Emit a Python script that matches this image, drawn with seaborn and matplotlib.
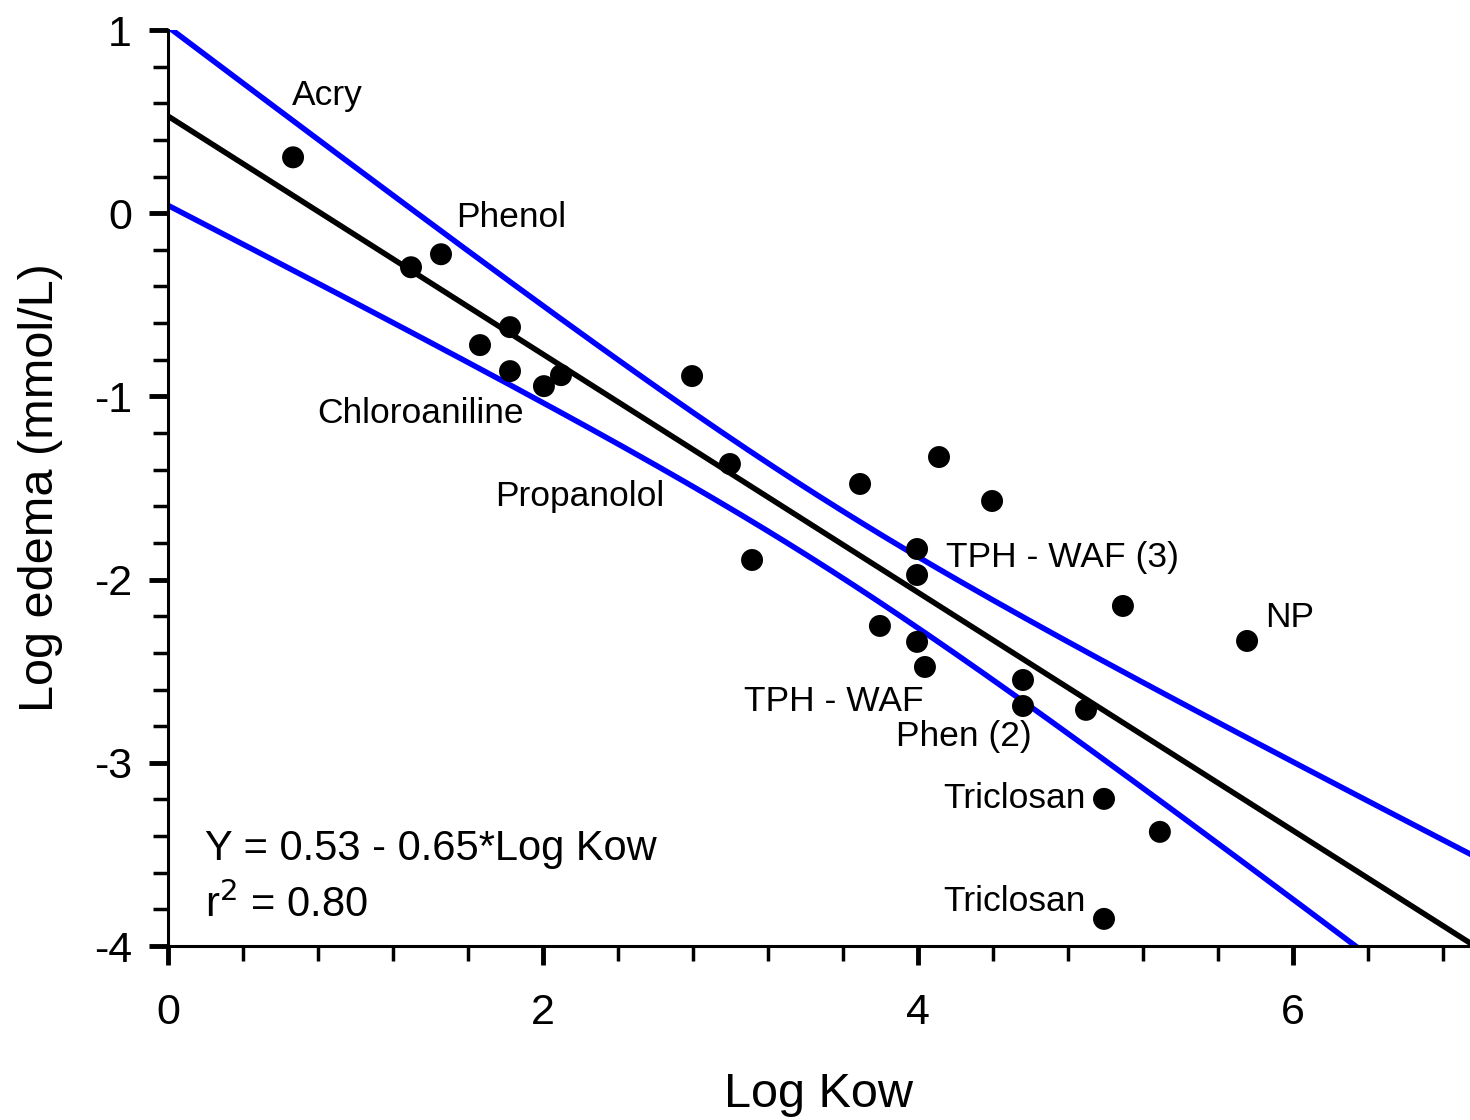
import numpy as np
import pandas as pd
import matplotlib
matplotlib.use("Agg")
import matplotlib.pyplot as plt
from matplotlib.ticker import MultipleLocator
import seaborn as sns

# values
log_kow = [0.667, 1.296, 1.456, 1.824, 1.664, 1.824, 2.005, 2.096, 2.795,
           2.997, 3.115, 3.691, 4.112, 4.395, 3.995, 3.995, 3.797, 3.995,
           4.037, 4.56, 4.56, 4.896, 5.093, 5.755, 4.992, 5.29, 4.992]
log_edema = [0.305, -0.295, -0.224, -0.622, -0.72, -0.862, -0.944, -0.884, -0.889,
             -1.369, -1.893, -1.478, -1.331, -1.571, -1.833, -1.975, -2.253, -2.34,
             -2.477, -2.548, -2.69, -2.711, -2.144, -2.335, -3.197, -3.377, -3.852]

intercept = 0.53
slope = -0.65
r2_text = "0.80"

labels = ["Acry", "Phenol", "Chloroaniline", "Propanolol", "TPH - WAF (3)", "NP",
          "TPH - WAF", "Phen (2)", "Triclosan", "Triclosan"]
label_pos = [(0.661, 0.644), (1.536, -0.022), (0.795, -1.091), (1.744, -1.549),
             (4.149, -1.882), (5.851, -2.209), (3.072, -2.668), (3.883, -2.859),
             (4.133, -3.197), (4.133, -3.759)]

df = pd.DataFrame({"x": log_kow, "y": log_edema})

# fitted line and 95% confidence band of the mean
n = len(df)
resid = df["y"] - (intercept + slope * df["x"])
s = np.sqrt((resid ** 2).sum() / (n - 2))
xbar = df["x"].mean()
sxx = ((df["x"] - xbar) ** 2).sum()
t = 2.06
xs = np.linspace(0, 7, 300)
fit = intercept + slope * xs
half = t * s * np.sqrt(1 / n + (xs - xbar) ** 2 / sxx)
lines = pd.DataFrame({"x": xs, "fit": fit, "upper": fit + half, "lower": fit - half})

sns.set_style("ticks")
plt.rcParams["font.family"] = ["Liberation Sans", "DejaVu Sans"]
plt.rcParams["axes.unicode_minus"] = False
for key in ["text.color", "axes.labelcolor", "xtick.color", "ytick.color"]:
    plt.rcParams[key] = "black"

fig = plt.figure(figsize=(14.7, 11.2), dpi=100)
ax = fig.add_axes([168 / 1470, 1 - 946 / 1120, 1302 / 1470, 916 / 1120])

sns.lineplot(data=lines, x="x", y="upper", color="#0000ff", lw=4, ax=ax)
sns.lineplot(data=lines, x="x", y="lower", color="#0000ff", lw=4, ax=ax)
sns.lineplot(data=lines, x="x", y="fit", color="black", lw=4, ax=ax)
sns.scatterplot(data=df, x="x", y="y", color="black", s=250, edgecolor="none",
                ax=ax, zorder=5)

for lab, (lx, ly) in zip(labels, label_pos):
    ax.text(lx, ly, lab, fontsize=25.5, ha="left", va="center")

ax.text(0.197, -3.47, f"Y = {intercept} - {abs(slope)}*Log Kow", fontsize=30,
        ha="left", va="center")
ax.text(0.197, -3.775, f"r$^2$ = {r2_text}", fontsize=30, ha="left", va="center")

ax.set_xlim(0, 1302 / 187.5)
ax.set_ylim(-4, 1)
ax.xaxis.set_major_locator(MultipleLocator(2))
ax.xaxis.set_minor_locator(MultipleLocator(0.4))
ax.yaxis.set_major_locator(MultipleLocator(1))
ax.yaxis.set_minor_locator(MultipleLocator(0.2))
ax.tick_params(which="major", length=14, width=3.5, labelsize=31, color="black",
               labelcolor="black")
ax.tick_params(axis="x", which="major", pad=20)
ax.tick_params(axis="y", which="major", pad=12)
ax.tick_params(which="minor", length=11, width=2.5, color="black")

for side in ["top", "right"]:
    ax.spines[side].set_visible(False)
for side in ["left", "bottom"]:
    ax.spines[side].set_linewidth(2.2)
    ax.spines[side].set_color("black")

ax.set_xlabel("Log Kow", fontsize=35, labelpad=28)
ax.set_ylabel("Log edema (mmol/L)", fontsize=35, labelpad=22)

fig.savefig("out.png", dpi=100)
